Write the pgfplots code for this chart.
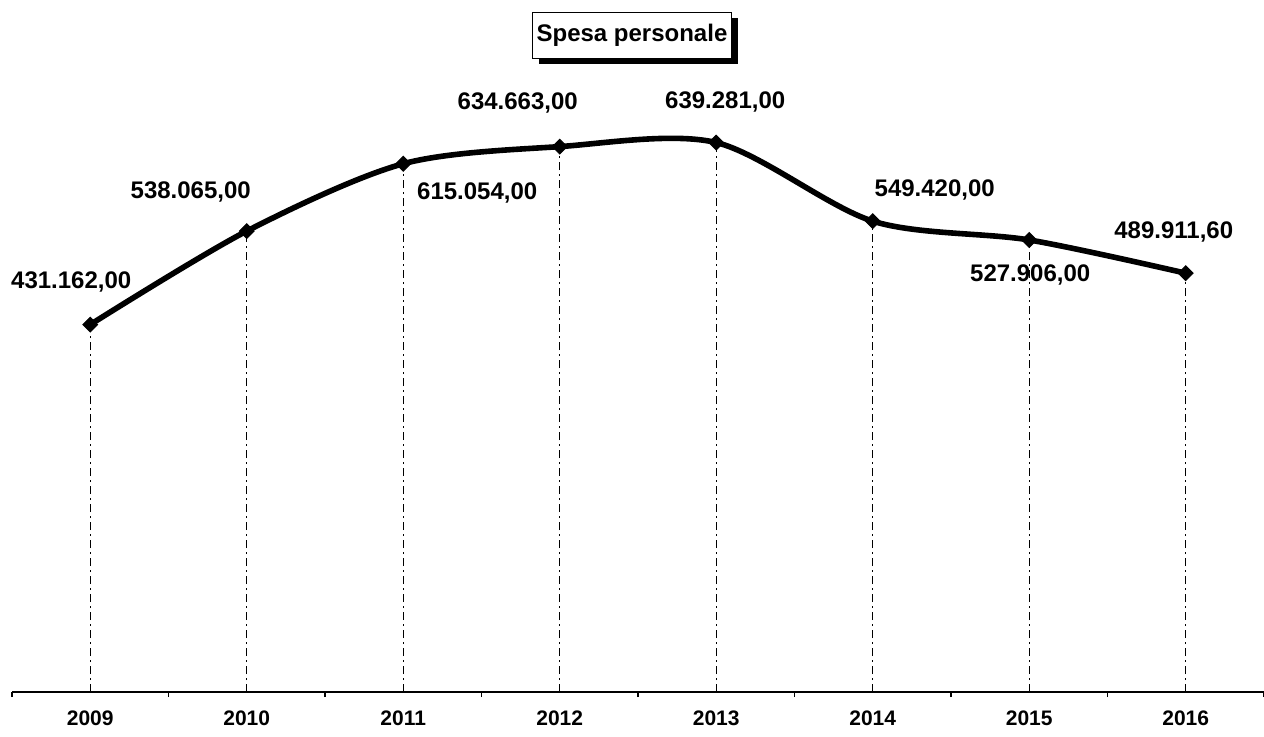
\documentclass[border=0pt]{standalone}
\usepackage{fontspec}
\setmainfont{Liberation Sans}
\usepackage{pgfplots}
\usepackage{pgfplotstable}
\pgfplotsset{compat=1.18}
\pgfplotstableread{
x y dx dy label
0 431162.00 -9.5 21.5 431.162,00
1 538065.00 -28 19.5 538.065,00
2 615054.00 37 -14.5 615.054,00
3 634663.00 -21 22 634.663,00
4 639281.00 4.5 20.5 639.281,00
5 549420.00 31 15.5 549.420,00
6 527906.00 0.5 -17.5 527.906,00
7 489911.60 -6 20.5 489.911,60
}\datatable
\begin{document}
\begin{tikzpicture}
\path[use as bounding box] (0,0) rectangle (632pt,368pt);
\begin{axis}[
  at={(6pt,22pt)}, anchor=south west,
  scale only axis, width=626pt, height=316pt,
  xmin=-0.5, xmax=7.5, ymin=11000, ymax=733700,
  axis x line*=bottom, axis y line=none,
  x axis line style={line width=0.7pt},
  xtick={0,...,7},
  xticklabels={2009,2010,2011,2012,2013,2014,2015,2016},
  major tick length=0pt,
  xticklabel style={font=\fontsize{10.5}{12}\selectfont\bfseries, yshift=-6pt},
  extra x ticks={-0.5,0.5,1.5,2.5,3.5,4.5,5.5,6.5,7.5},
  extra x tick labels={},
  extra x tick style={major tick length=2.5pt, tick align=outside, tick style={black, line width=0.6pt}},
  ytick=\empty,
]
\addplot[ycomb, black, line width=0.45pt, dash pattern=on 4pt off 2pt on 1pt off 2pt] table[x=x, y=y] {\datatable};
\addplot[black, line width=2.8pt, smooth, tension=0.5, mark=square*, mark size=2.6pt,
  mark options={solid, line width=0.5pt, rotate=45},
  point meta=explicit symbolic,
  visualization depends on={\thisrow{dx} \as \dx},
  visualization depends on={\thisrow{dy} \as \dy},
  nodes near coords,
  every node near coord/.append style={anchor=center, font=\fontsize{12}{14}\selectfont\bfseries, xshift=\dx pt, yshift=\dy pt, text=black},
] table[x=x, y=y, meta=label] {\datatable};
\end{axis}
\fill[black] (269.25pt,336pt) rectangle (368.75pt,359pt);
\node[draw=black, fill=white, line width=0.5pt, minimum width=99.5pt, minimum height=23pt, inner sep=0pt,
  font=\fontsize{12}{14}\selectfont\bfseries] at (316pt,350.5pt) {Spesa personale};
\end{tikzpicture}
\end{document}
